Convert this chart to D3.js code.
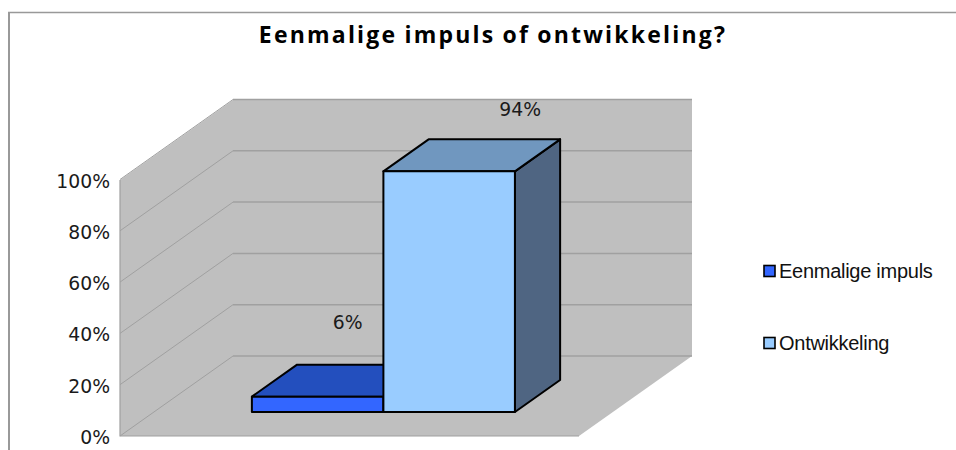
<!DOCTYPE html>
<html><head><meta charset="utf-8">
<script src="https://cdn.jsdelivr.net/npm/d3@7"></script>
<style>html,body{margin:0;padding:0;background:#fff}svg{display:block}</style>
</head><body><svg id="c" width="956" height="450"></svg>
<script>
const titleText = "Eenmalige impuls of ontwikkeling?";
const seriesNames = ["Eenmalige impuls", "Ontwikkeling"];
const seriesValues = [6, 94];
const seriesLabels = ["6%", "94%"];
const tickValues = [0, 20, 40, 60, 80, 100];
const sideColors = ["#3366ff", "#99ccff"];
const topColors = ["#234fbe", "#7097bf"];
const rightColors = ["#1f3f8f", "#4f6582"];

const svg = d3.select("#c");
const y = d3.scaleLinear().domain([0, 100]).range([436, 180]);
const gy = d3.scaleLinear().domain([0, 100]).range([436, 179.5]);
const floorLeft = 120, floorRight = 579, depthX = 113, depthY = 80;
const x = d3.scaleBand().domain(seriesNames).range([floorLeft, floorRight]).paddingInner(0).paddingOuter(0.745);
const path = d3.line();

// chart frame
svg.append("path").attr("d", path([[9,450],[9,12.5]])).attr("fill","none").attr("stroke","#999").attr("stroke-width",2);
svg.append("path").attr("d", path([[8,12.5],[956,12.5]])).attr("fill","none").attr("stroke","#999").attr("stroke-width",1.5);

// walls
svg.append("path").attr("fill", "#bfbfbf").attr("d", path([
  [floorLeft, y(100)], [floorLeft+depthX, y(100)-depthY], [floorRight+depthX, y(100)-depthY],
  [floorRight+depthX, y(0)-depthY], [floorRight, y(0)], [floorLeft, y(0)]]) + "Z");
// grid
const gridG = svg.append("g").attr("fill","none").attr("stroke","#a0a0a0");
tickValues.forEach(t => {
  gridG.append("path").attr("stroke-width",1).attr("d", path([[floorLeft, gy(t)], [floorLeft+depthX, gy(t)-depthY]]));
  gridG.append("path").attr("stroke-width",1.5).attr("d", path([[floorLeft+depthX, gy(t)-depthY], [floorRight+depthX, gy(t)-depthY]]));
});
gridG.append("path").attr("stroke-width",1.2).attr("d", path([[floorLeft, y(100)], [floorLeft, y(0)], [floorRight, y(0)]]));

// axis labels
const axisG = svg.append("g").attr("transform", `translate(110,1.5)`);
axisG.call(d3.axisLeft(gy).tickValues(tickValues).tickSize(0).tickPadding(0).tickFormat(d => d + "%"));
axisG.select(".domain").remove();
axisG.selectAll("text").attr("font-family","'DejaVu Sans',sans-serif").attr("font-size",18.8).attr("fill","#1a1a1a");

// bars: depth offset on the floor
const inset = 0.3, barDepth = 0.4;
const labelDx = [30, 71], labelDy = [68, 55];
seriesNames.forEach((name, i) => {
  const v = seriesValues[i];
  const ox = depthX * inset, oy = depthY * inset;
  const dx = depthX * barDepth, dy = depthY * barDepth;
  const x0 = x(name) + ox, x1 = x0 + x.bandwidth();
  const yb = y(0) - oy, yt = y(v) - oy;
  const g = svg.append("g").attr("stroke","#000").attr("stroke-width",2).attr("stroke-linejoin","round");
  g.append("path").attr("fill", rightColors[i]).attr("d", path([[x1,yb],[x1+dx,yb-dy],[x1+dx,yt-dy],[x1,yt]])+"Z");
  g.append("path").attr("fill", topColors[i]).attr("d", path([[x0,yt],[x0+dx,yt-dy],[x1+dx,yt-dy],[x1,yt]])+"Z");
  g.append("path").attr("fill", sideColors[i]).attr("d", path([[x0,yb],[x1,yb],[x1,yt],[x0,yt]])+"Z");
  svg.append("text").text(seriesLabels[i]).attr("x", x0 + x.bandwidth()/2 + labelDx[i]).attr("y", yt - labelDy[i])
    .attr("text-anchor","middle").attr("font-family","'DejaVu Sans',sans-serif").attr("font-size",18.8).attr("fill","#1a1a1a");
});

// title
svg.append("text").text(titleText).attr("x",493).attr("y",43).attr("text-anchor","middle")
  .attr("font-family","'Open Sans',sans-serif").attr("font-weight",700).attr("font-size",23).attr("letter-spacing",2.2).attr("word-spacing",-1).attr("fill","#000");

// legend
const legend = d3.scaleOrdinal().domain(seriesNames).range([272, 344]);
seriesNames.forEach((name, i) => {
  svg.append("rect").attr("x",764).attr("y",legend(name)-6.5).attr("width",11).attr("height",11)
    .attr("fill",sideColors[i]).attr("stroke","#000").attr("stroke-width",1.6);
  svg.append("text").text(name).attr("x",779).attr("y",legend(name)+6).attr("font-family","'Liberation Sans',sans-serif")
    .attr("font-size",20).attr("letter-spacing",-0.27).attr("fill","#111");
});
</script></body></html>
